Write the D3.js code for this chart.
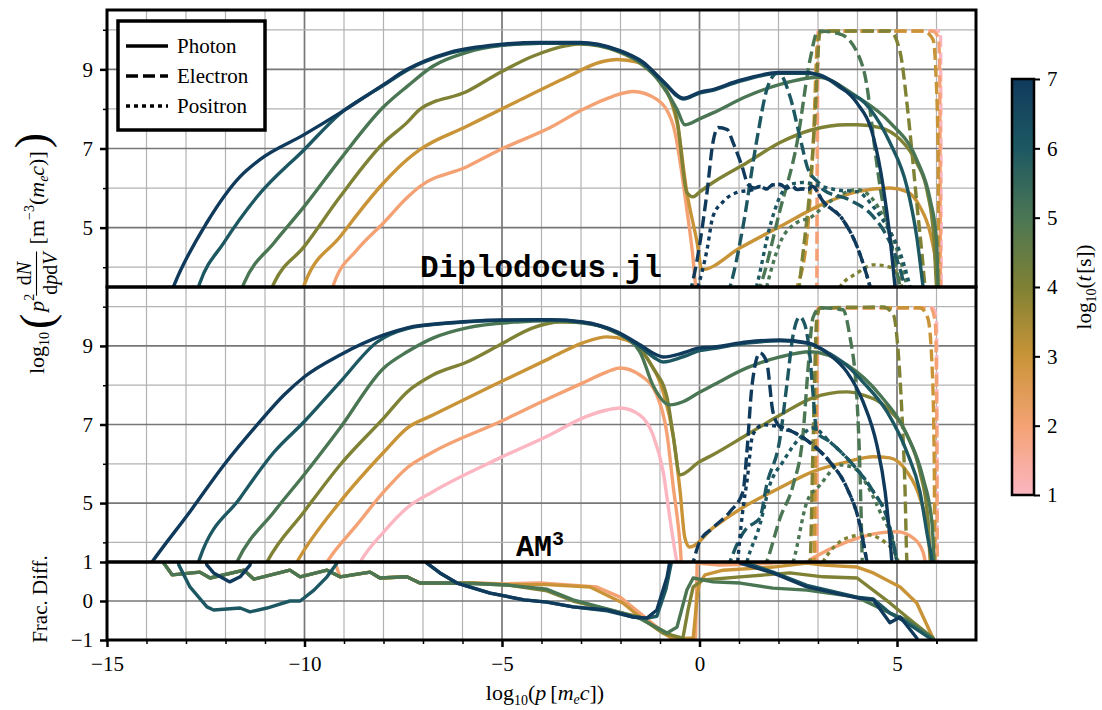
<!DOCTYPE html>
<html>
<head>
<meta charset="utf-8">
<script src="https://cdn.jsdelivr.net/npm/d3@7"></script>
<style>
body { margin: 0; background: #fff; }
text { font-family: "Liberation Serif", "Times New Roman", serif; fill: #000; }
</style>
</head>
<body>
<svg id="chart" width="1102" height="710"></svg>
<script>
// colour bar / time labels, log10(t [s])
const times = [1, 2, 3, 4, 5, 6, 7];
const timeColors = ["#fbb6c1", "#f4a274", "#c99438", "#7f8134", "#4b7654", "#1d5862", "#103a5c"];

const xMajorTicks = [-15, -10, -5, 0, 5];
const yMajorTicks = [5, 7, 9];
const yMinorTicks = [4, 6, 8, 10];
const fracTicks = [-1, 0, 1];
const legendNames = ["Photon", "Electron", "Positron"];

// Diplodocus.jl panel, points are [log10 p, log10 spectrum]
const diploPhoton = [
  {t: 2, pts: [[-9.35,3.3],[-9.25,3.6],[-8.67,4.44],[-7.99,5.13],[-7.4,5.76],[-7.08,6.04],[-5.89,6.54],[-5.05,6.97],[-3.78,7.53],[-2.95,7.99],[-2.19,8.32],[-1.68,8.44],[-1.08,8.24],[-0.67,7.6],[-0.32,5.45],[-0.16,4.19],[-0.08,3.3]]},
  {t: 3, pts: [[-10.1,3.3],[-9.99,3.6],[-9.1,4.77],[-7.99,6.14],[-7.4,6.72],[-7.08,6.97],[-5.89,7.56],[-4.62,8.19],[-3.36,8.8],[-2.52,9.18],[-2.09,9.25],[-1.58,9.18],[-1.08,8.83],[-0.57,7.66],[-0.32,5.89],[-0.06,4.62],[0.06,3.94],[1.03,4.49],[2.04,5.03],[3.13,5.6],[3.99,5.91],[4.82,6.0],[5.25,5.91],[5.58,5.53],[5.84,4.87],[6.0,4.0],[6.05,3.5],[6.08,3.0]]},
  {t: 4, pts: [[-10.9,3.3],[-10.77,3.6],[-10.01,4.52],[-9.1,5.78],[-7.99,7.15],[-7.4,7.66],[-7.08,7.99],[-5.89,8.44],[-5.05,8.92],[-4.22,9.33],[-3.36,9.6],[-3.03,9.64],[-2.09,9.46],[-1.43,9.1],[-1.0,8.67],[-0.57,7.73],[-0.32,5.89],[-0.16,5.78],[0,5.9],[0.34,6.14],[1.2,6.64],[2.04,7.15],[2.87,7.48],[3.73,7.6],[4.0,7.6],[4.57,7.53],[5.08,7.23],[5.5,6.64],[5.77,5.89],[5.93,4.77],[6.0,3.5],[6.03,3.0]]},
  {t: 5, pts: [[-11.65,3.3],[-11.53,3.6],[-10.77,4.62],[-10.01,5.53],[-9.1,6.72],[-7.99,8.06],[-7.4,8.57],[-6.75,9.08],[-5.89,9.43],[-5.05,9.6],[-4.04,9.66],[-3.03,9.66],[-2.09,9.48],[-1.43,9.12],[-1.0,8.68],[-0.82,8.42],[-0.57,7.99],[-0.37,7.6],[0,7.75],[0.34,7.9],[1.2,8.32],[2.04,8.62],[3.0,8.8],[4.0,8.3],[4.82,7.66],[5.5,6.72],[5.84,5.7],[6.0,4.7],[6.04,3.5],[6.06,3.0]]},
  {t: 6, pts: [[-12.75,3.3],[-12.65,3.6],[-12.04,4.62],[-11.2,5.78],[-10.01,6.97],[-9.1,7.88],[-7.99,8.6],[-7.4,8.98],[-6.32,9.41],[-5.05,9.61],[-4.04,9.66],[-3.03,9.66],[-2.09,9.48],[-1.43,9.16],[-0.92,8.68],[-0.4,8.25],[0,8.4],[0.34,8.47],[0.95,8.68],[2.04,8.9],[2.72,8.9],[3.05,8.86],[3.56,8.54],[4.32,8.0],[4.82,7.15],[5.25,6.04],[5.5,4.77],[5.66,3.5],[5.72,3.0]]},
  {t: 7, pts: [[-13.4,3.3],[-13.28,3.6],[-12.47,5.13],[-11.63,6.29],[-11.13,6.72],[-10.01,7.35],[-9.1,7.9],[-7.99,8.62],[-7.4,9.0],[-6.32,9.43],[-5.05,9.63],[-4.04,9.68],[-3.03,9.68],[-2.09,9.5],[-1.43,9.18],[-0.92,8.7],[-0.4,8.27],[0,8.42],[0.34,8.49],[0.95,8.7],[2.04,8.92],[2.72,8.92],[3.05,8.84],[3.56,8.57],[3.98,8.16],[4.4,7.3],[4.65,6.04],[4.82,4.77],[4.95,3.5],[5.0,3.0]]}
];
const diploElectron = [
  {t: 1, pts: [[2.98,3.3],[3.0,9.97],[6.1,9.97],[6.12,3.3]]},
  {t: 2, pts: [[2.97,3.3],[2.99,9.0],[3.02,9.97],[5.9,9.97],[6.05,9.8],[6.08,9.0],[6.1,3.3]]},
  {t: 3, pts: [[2.4,3.3],[2.47,3.5],[2.72,4.77],[2.87,6.9],[3.0,9.85],[3.1,9.97],[5.66,9.97],[5.91,9.76],[6.0,8.57],[6.04,6.9],[6.06,3.5],[6.07,3.2]]},
  {t: 4, pts: [[2.5,3.3],[2.62,4.36],[2.8,6.04],[2.92,7.73],[3.05,9.94],[3.3,9.97],[4.82,9.97],[5.08,9.43],[5.25,8.16],[5.38,6.9],[5.5,5.63],[5.63,4.36],[5.71,3.5],[5.75,3.2]]},
  {t: 5, pts: [[1.45,3.3],[1.53,3.5],[2.04,5.45],[2.47,7.15],[2.8,9.25],[3.0,9.97],[3.56,9.89],[3.99,9.43],[4.24,8.57],[4.4,7.3],[4.57,6.04],[4.82,4.77],[5.08,3.5],[5.15,3.2]]},
  {t: 6, pts: [[0.7,3.3],[0.77,3.5],[1.1,5.02],[1.44,7.15],[1.73,8.57],[1.99,8.92],[2.29,8.32],[2.54,7.3],[2.75,6.47],[3.05,6.09],[3.13,5.96],[3.8,5.7],[4.4,5.28],[4.75,4.77],[5.0,4.19],[5.2,3.5],[5.25,3.3]]},
  {t: 7, pts: [[-0.25,3.3],[-0.06,4.19],[0.19,5.89],[0.34,7.15],[0.47,7.53],[0.7,7.48],[0.85,7.15],[1.08,6.54],[1.23,6.09],[1.4,6.0],[1.53,6.04],[1.7,5.98],[1.85,6.08],[2.04,6.09],[2.2,6.0],[2.35,6.05],[2.47,5.96],[2.6,5.98],[2.75,5.96],[2.85,6.05],[3.13,5.66],[3.63,5.2],[3.99,4.52],[4.32,3.5],[4.4,3.2]]}
];
const diploPositron = [
  {t: 4, pts: [[3.45,3.3],[3.56,3.5],[3.99,3.85],[4.4,4.06],[4.82,4.0],[5.08,3.68],[5.15,3.3]]},
  {t: 5, pts: [[1.65,3.3],[1.7,3.5],[2.04,4.62],[2.47,5.13],[2.8,5.25],[3.3,5.66],[3.99,5.96],[4.4,5.7],[4.65,5.28],[5.0,4.44],[5.25,3.5],[5.3,3.2]]},
  {t: 6, pts: [[1.38,3.3],[1.44,3.5],[1.78,5.02],[2.04,5.79],[2.29,6.09],[2.62,6.14],[3.05,6.05],[3.5,5.95],[3.99,5.91],[4.4,5.53],[4.75,5.02],[5.08,4.36],[5.33,3.5],[5.4,3.2]]},
  {t: 7, pts: [[-0.1,3.3],[-0.04,3.5],[0.19,4.44],[0.34,5.28],[0.6,5.66],[0.95,5.89],[1.35,5.96],[1.53,6.04],[1.7,5.98],[1.85,6.08],[2.04,6.09],[2.2,6.0],[2.35,6.05],[2.47,5.96],[2.6,5.98],[2.75,5.96],[2.85,6.05],[3.13,5.66],[3.63,5.2],[3.99,4.52],[4.32,3.5],[4.4,3.2]]}
];

// AM3 panel
const am3Photon = [
  {t: 1, pts: [[-8.7,3.3],[-8.59,3.5],[-7.99,4.27],[-7.4,4.88],[-6.75,5.29],[-5.05,6.15],[-3.78,6.74],[-2.95,7.17],[-2.34,7.37],[-2.01,7.42],[-1.51,7.24],[-1.18,6.74],[-0.92,5.8],[-0.75,4.62],[-0.57,3.5],[-0.52,3.3]]},
  {t: 2, pts: [[-9.55,3.3],[-9.43,3.5],[-8.67,4.45],[-7.99,5.29],[-7.4,5.9],[-6.75,6.3],[-5.05,7.07],[-3.78,7.68],[-2.95,8.06],[-2.34,8.34],[-2.01,8.44],[-1.51,8.26],[-1.08,7.75],[-0.82,6.74],[-0.67,5.46],[-0.49,3.94],[-0.44,3.3],[2.4,3.3],[2.87,3.6],[3.73,4.01],[4.57,4.24],[5.0,4.27],[5.41,4.11],[5.66,3.75],[5.75,3.3]]},
  {t: 3, pts: [[-10.3,3.3],[-10.19,3.5],[-9.1,5.03],[-7.99,6.3],[-7.4,6.91],[-6.75,7.24],[-5.05,8.08],[-3.78,8.69],[-2.95,9.08],[-2.34,9.23],[-1.84,9.15],[-1.33,8.69],[-0.92,7.83],[-0.67,6.74],[-0.49,5.29],[-0.37,4.11],[-0.25,3.88],[0.34,4.37],[1.2,4.95],[2.04,5.39],[2.87,5.8],[3.73,6.05],[4.4,6.18],[4.82,6.15],[5.25,5.8],[5.58,5.13],[5.78,4.27],[5.85,3.5],[5.88,3.2]]},
  {t: 4, pts: [[-11.05,3.3],[-10.95,3.5],[-10.01,4.78],[-9.1,5.97],[-7.99,7.17],[-7.4,7.83],[-6.75,8.26],[-5.89,8.59],[-5.05,9.03],[-4.22,9.46],[-3.53,9.61],[-2.95,9.6],[-2.09,9.32],[-1.51,8.95],[-1.18,8.44],[-0.82,7.68],[-0.67,6.74],[-0.49,5.72],[0,6.05],[0.34,6.23],[1.2,6.74],[2.04,7.24],[2.87,7.68],[3.73,7.83],[4.14,7.75],[4.75,7.42],[5.25,6.74],[5.58,5.8],[5.78,4.62],[5.85,3.5],[5.88,3.2]]},
  {t: 5, pts: [[-11.8,3.3],[-11.71,3.5],[-10.77,4.78],[-10.01,5.72],[-9.1,6.91],[-7.99,8.44],[-7.4,8.85],[-6.75,9.2],[-5.89,9.46],[-4.62,9.61],[-3.78,9.64],[-2.95,9.58],[-2.09,9.33],[-1.51,8.85],[-1.18,8.0],[-0.75,7.5],[-0.42,7.58],[0,7.82],[0.34,8.0],[1.2,8.44],[2.04,8.72],[2.8,8.85],[3.73,8.52],[4.57,7.75],[5.25,6.74],[5.66,5.64],[5.89,4.45],[5.94,3.5],[5.97,3.2]]},
  {t: 6, pts: [[-12.75,3.3],[-12.65,3.6],[-11.63,5.13],[-10.77,6.3],[-10.01,7.07],[-9.1,8.08],[-8.16,9.1],[-7.4,9.44],[-6.32,9.58],[-5.05,9.65],[-3.78,9.66],[-2.95,9.6],[-2.09,9.34],[-1.51,8.98],[-1.08,8.66],[-0.92,8.59],[-0.42,8.72],[0,8.88],[0.34,8.93],[1.2,9.07],[2.04,9.13],[2.72,9.07],[3.3,8.8],[3.73,8.5],[4.14,8.08],[4.75,7.32],[5.25,6.3],[5.58,5.29],[5.78,4.11],[5.89,3.5],[5.92,3.2]]},
  {t: 7, pts: [[-14.0,3.3],[-13.86,3.5],[-12.9,4.78],[-12.04,5.97],[-11.2,6.99],[-10.52,7.75],[-10.01,8.21],[-9.1,8.77],[-7.99,9.28],[-7.4,9.46],[-6.32,9.59],[-5.05,9.66],[-3.78,9.67],[-2.95,9.61],[-2.09,9.36],[-1.51,9.03],[-1.08,8.77],[-0.92,8.72],[-0.42,8.82],[0,8.95],[0.34,8.97],[1.2,9.1],[2.04,9.15],[2.72,9.08],[3.3,8.77],[3.73,8.34],[4.14,7.58],[4.49,6.48],[4.7,5.29],[4.82,4.11],[4.87,3.5],[4.9,3.2]]}
];
const am3Electron = [
  {t: 1, pts: [[2.97,3.3],[3.0,9.97],[5.9,9.97],[6.0,9.7],[6.02,3.3]]},
  {t: 2, pts: [[2.96,3.3],[2.99,9.9],[3.03,9.97],[5.85,9.97],[5.97,9.6],[6.0,8.0],[6.02,3.3]]},
  {t: 3, pts: [[2.9,3.3],[2.93,6.0],[2.98,9.8],[3.05,9.97],[5.58,9.97],[5.78,9.71],[5.89,8.44],[5.94,6.3],[5.96,3.5],[5.97,3.2]]},
  {t: 4, pts: [[2.75,3.3],[2.8,3.5],[2.87,6.3],[2.97,9.71],[3.05,9.97],[4.65,9.99],[4.91,9.79],[5.03,8.85],[5.13,7.17],[5.2,5.46],[5.25,3.5],[5.27,3.2]]},
  {t: 5, pts: [[1.62,3.3],[1.7,3.5],[2.04,4.62],[2.37,5.46],[2.62,6.74],[2.75,8.44],[2.87,9.71],[3.05,9.97],[3.63,9.92],[3.8,9.28],[3.99,7.58],[4.06,5.9],[4.1,4.37],[4.12,3.5],[4.13,3.2]]},
  {t: 6, pts: [[0.7,3.3],[0.77,3.5],[1.2,4.37],[1.4,4.5],[1.53,4.62],[1.7,5.46],[2.04,6.66],[2.21,8.0],[2.37,9.28],[2.54,9.74],[2.67,9.53],[2.8,8.69],[2.87,7.83],[2.97,6.81],[3.3,6.56],[3.89,5.97],[4.4,5.29],[4.75,4.62],[5.0,3.5],[5.05,3.2]]},
  {t: 7, pts: [[-0.22,3.3],[-0.16,3.5],[0,4.01],[0.34,4.37],[0.77,4.78],[1.1,5.29],[1.2,6.3],[1.33,8.0],[1.53,8.82],[1.7,8.59],[1.86,7.32],[2.04,6.94],[2.37,6.81],[2.87,6.48],[3.3,6.05],[3.73,5.39],[4.06,4.45],[4.24,3.5],[4.3,3.2]]}
];
const am3Positron = [
  {t: 4, pts: [[3.05,3.3],[3.13,3.5],[3.3,3.76],[3.73,4.11],[4.2,4.2],[4.7,4.0],[5.0,3.6],[5.1,3.3]]},
  {t: 5, pts: [[2.3,3.3],[2.37,3.5],[2.72,5.03],[3.05,5.46],[3.56,5.97],[3.9,5.9],[4.24,5.46],[4.57,4.78],[4.91,3.94],[5.0,3.5],[5.05,3.2]]},
  {t: 6, pts: [[1.15,3.3],[1.2,3.5],[1.53,4.45],[1.78,5.46],[2.11,6.05],[2.54,6.66],[2.87,6.91],[3.3,6.56],[3.89,5.97],[4.4,5.29],[4.75,4.62],[5.0,3.5],[5.05,3.2]]},
  {t: 7, pts: [[0.95,3.3],[1.05,4.4],[1.12,5.0],[1.2,5.54],[1.35,6.74],[1.61,6.99],[2.04,6.94],[2.37,6.81],[2.87,6.48],[3.3,6.05],[3.73,5.39],[4.06,4.45],[4.24,3.5],[4.3,3.2]]}
];

// fractional difference of the photon spectra
const fracPhoton = [
  {t: 2, pts: [[-9.3,1.2],[-9.1,0.62],[-8.34,0.74],[-8.09,0.59],[-7.41,0.62],[-7.08,0.46],[-6.39,0.46],[-5.71,0.46],[-4.87,0.44],[-4.04,0.46],[-2.6,0.36],[-2.01,0.1],[-1.51,-0.31],[-1.08,-0.67],[-0.67,-0.92],[-0.4,-1.0],[-0.1,-0.98],[-0.06,0.97],[0.5,0.92],[1.5,0.95],[2.2,1.0],[2.5,1.2]]},
  {t: 3, pts: [[-13.65,1.2],[-13.56,0.97],[-13.35,0.67],[-12.65,0.74],[-12.39,0.59],[-11.53,0.79],[-11.28,0.56],[-10.37,0.79],[-10.11,0.62],[-9.43,0.79],[-9.1,0.62],[-8.34,0.74],[-8.09,0.59],[-7.41,0.62],[-7.08,0.46],[-6.39,0.46],[-5.71,0.46],[-4.87,0.42],[-3.86,0.42],[-2.77,0.36],[-1.94,-0.05],[-1.51,-0.41],[-0.92,-0.82],[-0.67,-0.97],[-0.16,-0.95],[-0.05,0.2],[0.0,0.46],[0.14,0.67],[0.6,0.79],[1.86,0.87],[2.72,0.97],[3.13,0.92],[3.99,0.87],[4.4,0.72],[5.08,0.36],[5.5,-0.05],[5.91,-0.95],[6.0,-1.2]]},
  {t: 4, pts: [[-13.65,1.2],[-13.56,0.97],[-13.35,0.67],[-12.65,0.74],[-12.39,0.59],[-11.53,0.79],[-11.28,0.56],[-10.37,0.79],[-10.11,0.62],[-9.43,0.79],[-9.1,0.62],[-8.34,0.74],[-8.09,0.59],[-7.41,0.62],[-7.08,0.46],[-6.39,0.46],[-5.71,0.45],[-4.87,0.41],[-3.86,0.26],[-3.2,0.0],[-1.94,-0.31],[-1.51,-0.41],[-0.92,-0.82],[-0.42,-0.95],[-0.29,-0.23],[-0.16,0.36],[0.09,0.54],[1.03,0.62],[2.29,0.72],[3.13,0.62],[3.99,0.59],[4.82,-0.05],[5.25,-0.41],[5.91,-0.95],[6.0,-1.2]]},
  {t: 5, pts: [[-13.65,1.2],[-13.56,0.97],[-13.35,0.67],[-12.65,0.74],[-12.39,0.59],[-11.53,0.79],[-11.28,0.56],[-10.37,0.79],[-10.11,0.62],[-9.43,0.79],[-9.1,0.62],[-8.34,0.74],[-8.09,0.59],[-7.41,0.62],[-7.08,0.46],[-6.39,0.46],[-5.71,0.45],[-4.87,0.41],[-3.86,0.3],[-3.2,0.03],[-1.94,-0.31],[-1.51,-0.45],[-0.82,-0.82],[-0.57,-0.67],[-0.32,0.28],[-0.16,0.59],[0.34,0.49],[1.03,0.46],[1.86,0.33],[2.72,0.28],[3.99,0.1],[4.82,-0.31],[5.25,-0.49],[5.91,-0.95],[6.0,-1.2]]},
  {t: 6, pts: [[-13.25,1.2],[-13.18,0.92],[-12.9,0.36],[-12.47,-0.15],[-12.3,-0.23],[-11.63,-0.18],[-11.38,-0.28],[-10.95,-0.18],[-10.37,0.0],[-10.11,0.0],[-9.76,0.28],[-9.43,0.62],[-9.18,0.97],[-9.1,1.3],[-7.0,1.3],[-6.9,0.97],[-6.57,0.72],[-6.14,0.46],[-5.3,0.2],[-4.44,0.03],[-3.86,-0.03],[-3.2,-0.15],[-2.34,-0.25],[-1.68,-0.41],[-1.33,-0.44],[-1.08,-0.39],[-0.85,0.3],[-0.65,1.3],[1.1,1.3],[1.2,0.97],[1.86,0.74],[2.72,0.4],[3.99,0.1],[4.4,0.05],[4.82,-0.31],[5.25,-0.56],[5.83,-0.95],[5.9,-1.2]]},
  {t: 7, pts: [[-12.55,1.2],[-12.47,0.92],[-12.3,0.72],[-11.89,0.49],[-11.63,0.62],[-11.38,0.92],[-11.3,1.3],[-7.0,1.3],[-6.9,0.97],[-6.57,0.72],[-6.14,0.46],[-5.3,0.2],[-4.44,0.03],[-3.86,-0.03],[-3.2,-0.15],[-2.34,-0.23],[-1.68,-0.41],[-1.33,-0.44],[-1.08,-0.23],[-0.82,0.62],[-0.7,1.3],[0.9,1.3],[1.03,0.97],[1.86,0.72],[2.72,0.36],[3.99,0.08],[4.4,0.03],[4.82,-0.56],[5.08,-0.41],[5.5,-0.95],[5.6,-1.2]]}
];

const svg = d3.select("#chart");
const color = d3.scaleLinear().domain(times).range(timeColors).interpolate(d3.interpolateRgb);

const x = d3.scaleLinear().domain([-15, 7]).range([107, 976]);
const yTop = d3.scaleLinear().domain([3.5, 10.5]).range([287, 10]);
const yMid = d3.scaleLinear().domain([3.5, 10.5]).range([562, 287]);
const yBot = d3.scaleLinear().domain([-1, 1]).range([640, 562]);

const lineW = 3.4;
const dashes = {solid: null, dashed: "12,5", dotted: "4,4"};
const xGrid = d3.range(-14, 7);

function drawPanel(id, y, hLines, sets, curve) {
  const top = y.range()[1], bottom = y.range()[0];
  svg.append("clipPath").attr("id", "clip-" + id)
    .append("rect")
    .attr("x", x(-15)).attr("y", top)
    .attr("width", x(7) - x(-15)).attr("height", bottom - top);

  const g = svg.append("g").attr("class", "panel-" + id);
  g.selectAll(".vgrid").data(xGrid).enter().append("line")
    .attr("x1", d => x(d)).attr("x2", d => x(d))
    .attr("y1", top).attr("y2", bottom)
    .attr("stroke", d => d % 5 === 0 ? "#777" : "#b2b2b2")
    .attr("stroke-width", d => d % 5 === 0 ? 1.7 : 1.2);
  g.selectAll(".hgrid").data(hLines).enter().append("line")
    .attr("x1", x(-15)).attr("x2", x(7))
    .attr("y1", d => y(d.v)).attr("y2", d => y(d.v))
    .attr("stroke", d => d.major ? "#777" : "#b2b2b2")
    .attr("stroke-width", d => d.major ? 1.7 : 1.2);

  const lineGen = d3.line().x(d => x(d[0])).y(d => y(d[1])).curve(curve);
  const lg = g.append("g").attr("clip-path", "url(#clip-" + id + ")");
  times.forEach(t => {
    sets.forEach(([set, style]) => {
      const s = set.find(d => d.t === t);
      if (!s) return;
      lg.append("path")
        .datum(s.pts)
        .attr("d", lineGen)
        .attr("fill", "none")
        .attr("stroke", color(t))
        .attr("stroke-width", lineW)
        .attr("stroke-linejoin", "round")
        .attr("stroke-dasharray", dashes[style]);
    });
  });
  return g;
}

const specGrid = d3.range(4, 11).map(v => ({v: v, major: v % 2 === 1}));
drawPanel("diplo", yTop, specGrid,
  [[diploPhoton, "solid"], [diploElectron, "dashed"], [diploPositron, "dotted"]], d3.curveMonotoneX);
drawPanel("am3", yMid, specGrid,
  [[am3Photon, "solid"], [am3Electron, "dashed"], [am3Positron, "dotted"]], d3.curveMonotoneX);
drawPanel("frac", yBot, [{v: 0, major: true}], [[fracPhoton, "solid"]], d3.curveLinear);

// panel titles
svg.append("text")
  .attr("x", 541).attr("y", 277)
  .attr("text-anchor", "middle")
  .style("font-family", "'Liberation Mono', 'DejaVu Sans Mono', monospace")
  .style("font-weight", "bold").style("font-size", "31px")
  .text("Diplodocus.jl");
const am3 = svg.append("text")
  .attr("x", 516).attr("y", 556)
  .style("font-family", "'Liberation Mono', 'DejaVu Sans Mono', monospace")
  .style("font-weight", "bold").style("font-size", "30px");
am3.append("tspan").text("AM");
am3.append("tspan").attr("dy", -11).style("font-size", "20px").text("3");

// axes
function styleAxis(sel) {
  sel.select(".domain").remove();
  sel.selectAll(".tick line").attr("stroke", "#000");
  sel.selectAll(".tick text")
    .style("font-family", "'Liberation Serif', serif")
    .style("font-size", "21px").attr("fill", "#000");
}
[[yTop, yMajorTicks, yMinorTicks], [yMid, yMajorTicks, yMinorTicks]].forEach(([y, maj, mnr]) => {
  svg.append("g").attr("transform", "translate(107,0)")
    .call(d3.axisLeft(y).tickValues(mnr).tickSize(4).tickFormat(""))
    .call(styleAxis).selectAll(".tick line").attr("stroke-width", 1.5);
  svg.append("g").attr("transform", "translate(107,0)")
    .call(d3.axisLeft(y).tickValues(maj).tickSize(7).tickPadding(7).tickFormat(d3.format("d")))
    .call(styleAxis).selectAll(".tick line").attr("stroke-width", 2.5);
});
svg.append("g").attr("transform", "translate(107,0)")
  .call(d3.axisLeft(yBot).tickValues(fracTicks).tickSize(7).tickPadding(7).tickFormat(d3.format("d")))
  .call(styleAxis).selectAll(".tick line").attr("stroke-width", 2.5);

svg.append("g").attr("transform", "translate(0,640)")
  .call(d3.axisBottom(x).tickValues(xGrid.filter(d => d % 5 !== 0).concat([6])).tickSize(4).tickFormat(""))
  .call(styleAxis).selectAll(".tick line").attr("stroke-width", 1.5);
svg.append("g").attr("transform", "translate(0,640)")
  .call(d3.axisBottom(x).tickValues(xMajorTicks).tickSize(7).tickPadding(9).tickFormat(d3.format("d")))
  .call(styleAxis).selectAll(".tick line").attr("stroke-width", 2.5);

// panel frames
[yTop, yMid, yBot].forEach(y => {
  svg.append("rect")
    .attr("x", x(-15)).attr("y", y.range()[1])
    .attr("width", x(7) - x(-15)).attr("height", y.range()[0] - y.range()[1])
    .attr("fill", "none").attr("stroke", "#000").attr("stroke-width", 3);
});

// legend
const leg = svg.append("g");
leg.append("rect").attr("x", 118).attr("y", 21).attr("width", 147).attr("height", 109)
  .attr("fill", "#fff").attr("stroke", "#000").attr("stroke-width", 3.5);
legendNames.forEach((name, i) => {
  const yy = 46 + i * 30;
  leg.append("line").attr("x1", 126).attr("x2", 168).attr("y1", yy).attr("y2", yy)
    .attr("stroke", "#000").attr("stroke-width", lineW)
    .attr("stroke-dasharray", [null, "12,5", "4,4"][i]);
  leg.append("text").attr("x", 177).attr("y", yy + 7).style("font-size", "21px").text(name);
});

// colour bar
const cb = d3.scaleLinear().domain([1, 7]).range([495, 79]);
const grad = svg.append("defs").append("linearGradient").attr("id", "cbar")
  .attr("x1", 0).attr("y1", 1).attr("x2", 0).attr("y2", 0);
d3.range(1, 7.01, 0.25).forEach(t => {
  grad.append("stop").attr("offset", (t - 1) / 6).attr("stop-color", color(t));
});
svg.append("rect").attr("x", 1012).attr("y", cb(7)).attr("width", 22).attr("height", cb(1) - cb(7))
  .attr("fill", "url(#cbar)").attr("stroke", "#000").attr("stroke-width", 2.5);
svg.append("g").attr("transform", "translate(1034,0)")
  .call(d3.axisRight(cb).tickValues(times).tickSize(6).tickPadding(7).tickFormat(d3.format("d")))
  .call(styleAxis).selectAll(".tick line").attr("stroke-width", 2);

// axis labels
const xl = svg.append("text").attr("x", 545).attr("y", 700).attr("text-anchor", "middle").style("font-size", "22px");
xl.append("tspan").text("log");
xl.append("tspan").attr("dy", 5).style("font-size", "14px").text("10");
xl.append("tspan").attr("dy", -5).text("(");
xl.append("tspan").style("font-style", "italic").text("p");
xl.append("tspan").attr("dx", 4).text("[");
xl.append("tspan").style("font-style", "italic").text("m");
xl.append("tspan").attr("dy", 4).style("font-size", "14px").style("font-style", "italic").text("e");
xl.append("tspan").attr("dy", -4).style("font-style", "italic").text("c");
xl.append("tspan").text("])");

const cl = svg.append("text").attr("transform", "translate(1091,287) rotate(-90)")
  .attr("text-anchor", "middle").style("font-size", "21px");
cl.append("tspan").text("log");
cl.append("tspan").attr("dy", 5).style("font-size", "14px").text("10");
cl.append("tspan").attr("dy", -5).text("(");
cl.append("tspan").style("font-style", "italic").text("t");
cl.append("tspan").attr("dx", 2).text("[s])");

svg.append("text").attr("transform", "translate(47,599) rotate(-90)")
  .attr("text-anchor", "middle").style("font-size", "21px").text("Frac. Diff.");

// spectrum label with a fraction, laid out piece by piece then centred
const yl = svg.append("g");
const ta = yl.append("text").style("font-size", "22px");
ta.append("tspan").text("log");
ta.append("tspan").attr("dy", 5).style("font-size", "14px").text("10");
ta.append("tspan").attr("dy", 3).attr("dx", 3).style("font-size", "46px").text("(");
ta.append("tspan").attr("dy", -8).attr("dx", 2).style("font-style", "italic").text("p");
ta.append("tspan").attr("dy", -10).style("font-size", "14px").text("2");
const aw = ta.node().getComputedTextLength();
const fx = aw + 4;
const num = yl.append("text").attr("y", -13).style("font-size", "20px");
num.append("tspan").text("d");
num.append("tspan").style("font-style", "italic").text("N");
const den = yl.append("text").attr("y", 13).style("font-size", "20px");
den.append("tspan").text("d");
den.append("tspan").style("font-style", "italic").text("p");
den.append("tspan").text("d");
den.append("tspan").style("font-style", "italic").text("V");
const fw = Math.max(num.node().getComputedTextLength(), den.node().getComputedTextLength());
num.attr("x", fx + (fw - num.node().getComputedTextLength()) / 2);
den.attr("x", fx + (fw - den.node().getComputedTextLength()) / 2);
yl.append("line").attr("x1", fx - 1).attr("x2", fx + fw + 1).attr("y1", -7.5).attr("y2", -7.5)
  .attr("stroke", "#000").attr("stroke-width", 1.1);
const tb = yl.append("text").attr("x", fx + fw + 8).style("font-size", "22px");
tb.append("tspan").text("[m");
tb.append("tspan").attr("dy", -10).style("font-size", "14px").text("\u22123");
tb.append("tspan").attr("dy", 10).text("(");
tb.append("tspan").style("font-style", "italic").text("m");
tb.append("tspan").attr("dy", 4).style("font-size", "14px").style("font-style", "italic").text("e");
tb.append("tspan").attr("dy", -4).style("font-style", "italic").text("c");
tb.append("tspan").text(")]");
tb.append("tspan").attr("dy", 3).attr("dx", 3).style("font-size", "46px").text(")");
const total = fx + fw + 8 + tb.node().getComputedTextLength();
yl.attr("transform", "translate(44," + (255 + total / 2) + ") rotate(-90)");
</script>
</body>
</html>
